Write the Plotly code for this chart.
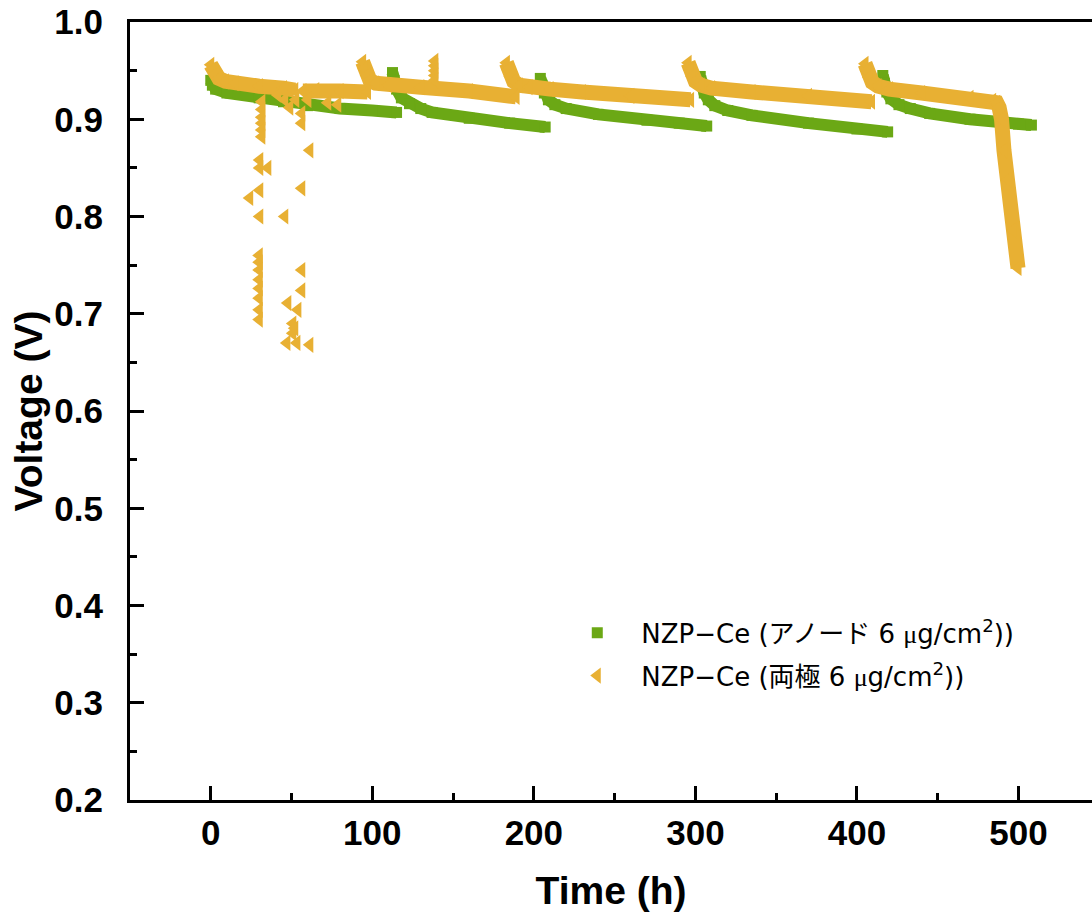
import plotly.graph_objects as go

# ---- data ----
# Anode 6 ug/cm2 (green), segments separated by None
anode_t = [0, 1, 3, 10, 30, 45, 60, 80, 100, 115, None,
           112.5, 113.5, 115, 118, 123, 130, 137, 160, 185, 207, None,
           204, 205, 206.5, 209, 213, 220, 240, 270, 290, 307, None,
           303, 304, 305.5, 308, 312, 320, 335, 370, 400, 419, None,
           416, 417, 418.5, 421, 426, 433, 445, 470, 500, 508]
anode_v = [0.940, 0.935, 0.931, 0.927, 0.922, 0.918, 0.914, 0.911, 0.909, 0.907, None,
           0.948, 0.940, 0.931, 0.922, 0.916, 0.911, 0.907, 0.901, 0.896, 0.892, None,
           0.942, 0.935, 0.927, 0.920, 0.915, 0.911, 0.905, 0.899, 0.896, 0.893, None,
           0.944, 0.936, 0.927, 0.920, 0.914, 0.909, 0.904, 0.896, 0.890, 0.887, None,
           0.945, 0.937, 0.928, 0.921, 0.915, 0.911, 0.906, 0.900, 0.895, 0.894]

# Both electrodes 6 ug/cm2 (orange), continuous segments
both_t = [0, 1, 2.5, 5, 9, 15, 30, 45, 52, None,
          57, 65, 80, 97, None,
          94, 95, 96.5, 98.5, 102, 110, 130, 160, 189, None,
          183, 184, 185.5, 187.5, 191, 197, 210, 230, 260, 297, None,
          295.5, 296.5, 298, 300, 303.5, 310, 335, 370, 409, None,
          405, 406, 407.5, 409.5, 413, 420, 440, 470, 484, 486.5, 488, 489.5,
          491, 493.5, 496.6, 499.7]
both_v = [0.956, 0.951, 0.946, 0.942, 0.939, 0.937, 0.934, 0.932, 0.930, None,
          0.929, 0.930, 0.929, 0.928, None,
          0.959, 0.952, 0.945, 0.940, 0.937, 0.935, 0.933, 0.929, 0.923, None,
          0.958, 0.951, 0.944, 0.939, 0.935, 0.933, 0.931, 0.928, 0.924, 0.920, None,
          0.958, 0.951, 0.944, 0.939, 0.935, 0.932, 0.928, 0.924, 0.918, None,
          0.957, 0.950, 0.943, 0.938, 0.934, 0.931, 0.927, 0.922, 0.919, 0.917, 0.912, 0.900,
          0.868, 0.838, 0.786, 0.747]

# Both electrodes: scattered points (unstable region and spikes)
both_scatter_t = [31.6, 31.6, 31.6, 31.6, 31.6, 31.6,
                  30.3, 30.3, 35.3, 30.3, 24.1, 30.3, 45.8, 61.3, 56.3,
                  30.0, 30.0, 30.0, 30.0, 30.0, 30.0, 30.0, 30.0,
                  56.3, 56.3, 47.7, 53.9, 50.8, 50.8, 47.1, 53.3, 61.3, 52.0,
                  56.3, 56.3, 52.6, 48.9, 45.8, 41.5, 60.1, 72.4, 78.6,
                  138.7, 138.7, 138.7, 138.7, 138.7]
both_scatter_v = [0.918, 0.910, 0.902, 0.896, 0.889, 0.882,
                  0.858, 0.850, 0.850, 0.827, 0.819, 0.800, 0.800, 0.868, 0.829,
                  0.760, 0.753, 0.745, 0.735, 0.726, 0.716, 0.704, 0.694,
                  0.745, 0.724, 0.711, 0.704, 0.690, 0.680, 0.670, 0.670, 0.668, 0.685,
                  0.906, 0.896, 0.920, 0.912, 0.920, 0.925, 0.920, 0.917, 0.915,
                  0.960, 0.955, 0.950, 0.945, 0.940]

MU = "<span style=\"font-family:'Liberation Serif', serif\">μ</span>"
name_anode = "NZP−Ce (アノード 6 " + MU + "g/cm<sup>2</sup>))"
name_both = "NZP−Ce (両極 6 " + MU + "g/cm<sup>2</sup>))"

GREEN = "#6BA815"
ORANGE = "#E8B033"

def strip_none(ts, vs):
    xs, ys = [], []
    for a, b in zip(ts, vs):
        if a is not None:
            xs.append(a)
            ys.append(b)
    return xs, ys

fig = go.Figure()

# green band + markers
fig.add_trace(go.Scatter(x=anode_t, y=anode_v, mode="lines",
                         line=dict(color=GREEN, width=12),
                         showlegend=False, legendgroup="a", hoverinfo="skip"))
ax, ay = strip_none(anode_t, anode_v)
fig.add_trace(go.Scatter(x=ax, y=ay, mode="markers", name=name_anode,
                         marker=dict(symbol="square", size=11, color=GREEN),
                         legendgroup="a"))

# orange band + markers
fig.add_trace(go.Scatter(x=both_t, y=both_v, mode="lines",
                         line=dict(color=ORANGE, width=15),
                         showlegend=False, legendgroup="b", hoverinfo="skip"))
bx, by = strip_none(both_t, both_v)
fig.add_trace(go.Scatter(x=bx + both_scatter_t, y=by + both_scatter_v, mode="markers",
                         name=name_both,
                         marker=dict(symbol="triangle-left", size=14, color=ORANGE),
                         legendgroup="b"))

tickfont = dict(family="Liberation Sans, Arial, sans-serif",
                size=35, color="black", weight="bold")
titlefont = dict(family="Liberation Sans, Arial, sans-serif", size=39, color="black", weight="bold")

fig.update_layout(
    width=1092, height=915,
    margin=dict(l=130, r=0, t=22, b=115),
    plot_bgcolor="white", paper_bgcolor="white",
    legend=dict(
        x=0.44, y=0.245, xanchor="left", yanchor="top",
        bgcolor="rgba(0,0,0,0)",
        font=dict(family="DejaVu Sans, Noto Sans CJK JP, sans-serif", size=26, color="black"),
        itemwidth=78, tracegroupgap=6, traceorder="grouped",
    ),
    xaxis=dict(
        range=[-50, 545.5], tickmode="array", tickvals=[0, 100, 200, 300, 400, 500],
        ticks="inside", ticklen=14, tickwidth=2.5, tickcolor="black",
        showline=True, linewidth=3, linecolor="black", mirror=True,
        showgrid=False, zeroline=False,
        minor=dict(ticks="inside", ticklen=7, tickwidth=2.5, tickcolor="black",
                   tickvals=[50, 150, 250, 350, 450], showgrid=False),
        tickfont=tickfont,
        title=dict(text="Time (h)", font=titlefont, standoff=26),
    ),
    yaxis=dict(
        range=[0.2, 1.0], tickmode="array",
        tickvals=[0.2, 0.3, 0.4, 0.5, 0.6, 0.7, 0.8, 0.9, 1.0],
        ticktext=["0.2", "0.3", "0.4", "0.5", "0.6", "0.7", "0.8", "0.9", "1.0"],
        ticks="inside", ticklen=14, tickwidth=2.5, tickcolor="black",
        showline=True, linewidth=3, linecolor="black", mirror=False,
        showgrid=False, zeroline=False,
        minor=dict(ticks="inside", ticklen=7, tickwidth=2.5, tickcolor="black",
                   tickvals=[0.25, 0.35, 0.45, 0.55, 0.65, 0.75, 0.85, 0.95], showgrid=False),
        tickfont=tickfont, ticklabelstandoff=17,
        title=dict(text="Voltage (V)", font=titlefont, standoff=0),
    ),
)

fig.write_html("out.html")
